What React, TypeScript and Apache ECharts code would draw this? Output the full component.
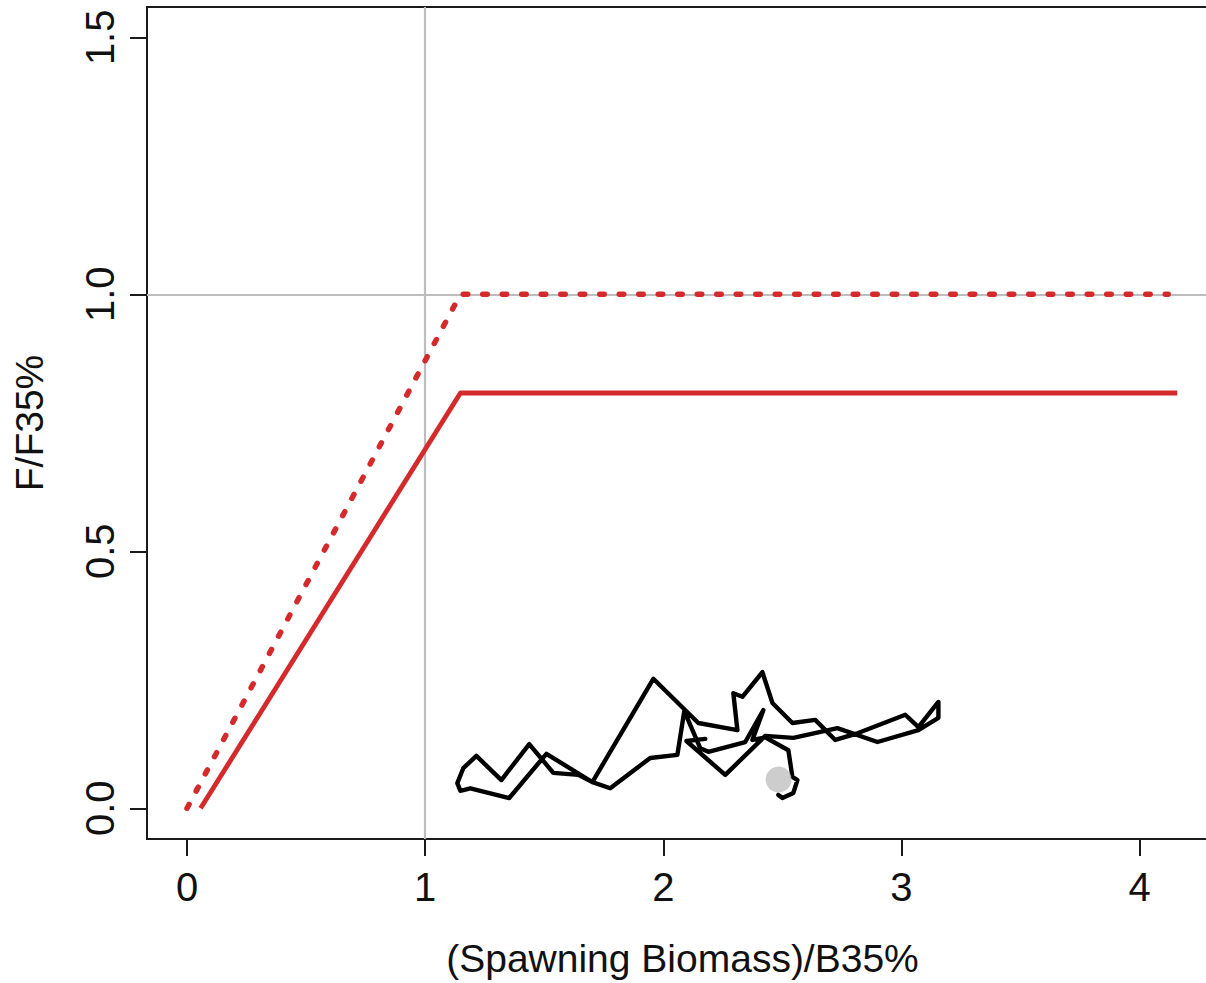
import React, { useEffect, useRef } from "react";
import * as echarts from "echarts";

// ---- data ----
const xTicks = [0, 1, 2, 3, 4];
const yTicks = [0, 0.5, 1, 1.5];

const ofDotB = [0, 1.148, 4.12];
const ofDotF = [0, 1.0, 1.0];

const abcB = [0.057, 1.148, 4.158];
const abcF = [0, 0.808, 0.808];

const refB = 1;
const refF = 1;

const trajB = [
  2.176, 2.097, 2.26, 2.428, 2.546, 2.731, 2.899, 3.071, 3.155, 3.155, 3.071, 3.016, 2.815,
  2.722, 2.638, 2.542, 2.458, 2.416, 2.332, 2.294, 2.311, 2.147, 1.958, 1.702, 1.643, 1.538,
  1.437, 1.32, 1.215, 1.16, 1.135, 1.148, 1.19, 1.353, 1.509, 1.702, 1.777, 1.945, 2.059,
  2.088, 2.155, 2.189, 2.344, 2.42, 2.374, 2.428, 2.525, 2.542, 2.563, 2.546, 2.5, 2.483,
];
const trajF = [
  0.135, 0.131, 0.065, 0.141, 0.137, 0.156, 0.129, 0.152, 0.176, 0.207, 0.158, 0.182, 0.146,
  0.133, 0.172, 0.166, 0.205, 0.265, 0.217, 0.224, 0.152, 0.166, 0.252, 0.051, 0.065, 0.069,
  0.125, 0.055, 0.102, 0.078, 0.049, 0.034, 0.039, 0.02, 0.106, 0.051, 0.039, 0.098, 0.104,
  0.189, 0.117, 0.11, 0.129, 0.191, 0.133, 0.138, 0.113, 0.061, 0.055, 0.03, 0.02, 0.026,
];

const currentB = [2.484];
const currentF = [0.056];

const xTitle = "(Spawning Biomass)/B35%";
const yTitle = "F/F35%";

const zip = (a: number[], b: number[]) => a.map((v, i) => [v, b[i]]);

const FONT = "'Liberation Sans', Arial, Helvetica, sans-serif";
const RED = "#d42a2c";

export default function App() {
  const ref = useRef<HTMLDivElement>(null);

  useEffect(() => {
    document.body.style.margin = "0";
    const chart = echarts.init(ref.current!, undefined, { renderer: "svg" });
    chart.setOption({
      animation: false,
      backgroundColor: "#ffffff",
      textStyle: { fontFamily: FONT },
      grid: {
        left: 147,
        top: 7,
        bottom: 144,
        right: 0,
        show: true,
        borderColor: "#1a1a1a",
        borderWidth: 2,
        backgroundColor: "transparent",
      },
      xAxis: {
        type: "value",
        min: -0.168,
        max: 4.329,
        name: xTitle,
        nameLocation: "middle",
        nameGap: 100,
        nameTextStyle: { fontSize: 39, color: "#111", fontFamily: FONT },
        axisLine: { show: true, onZero: false, lineStyle: { color: "#1a1a1a", width: 2 } },
        axisTick: {
          show: true,
          inside: false,
          length: 17,
          customValues: xTicks,
          lineStyle: { color: "#1a1a1a", width: 2 },
        },
        axisLabel: {
          show: true,
          customValues: xTicks,
          margin: 28,
          fontSize: 40,
          color: "#111",
          fontFamily: FONT,
          formatter: (v: number) => String(v),
        },
        splitLine: { show: false },
      },
      yAxis: {
        type: "value",
        min: -0.0597,
        max: 1.559,
        name: yTitle,
        nameLocation: "middle",
        nameRotate: 90,
        nameGap: 98,
        nameTextStyle: { fontSize: 39, color: "#111", fontFamily: FONT },
        axisLine: { show: true, onZero: false, lineStyle: { color: "#1a1a1a", width: 2 } },
        axisTick: {
          show: true,
          inside: false,
          length: 17,
          customValues: yTicks,
          lineStyle: { color: "#1a1a1a", width: 2 },
        },
        axisLabel: {
          show: true,
          customValues: yTicks,
          rotate: 90,
          margin: 27,
          fontSize: 40,
          color: "#111",
          fontFamily: FONT,
          formatter: (v: number) => v.toFixed(1),
        },
        splitLine: { show: false },
      },
      series: [
        {
          type: "line",
          data: [],
          silent: true,
          z: 1,
          markLine: {
            silent: true,
            z: 1,
            symbol: ["none", "none"],
            label: { show: false },
            lineStyle: { color: "#bdbdbd", width: 2.2, type: "solid" },
            data: [{ xAxis: refB }, { yAxis: refF }],
          },
        },
        {
          type: "line",
          data: zip(ofDotB, ofDotF),
          showSymbol: false,
          z: 6,
          lineStyle: { color: RED, width: 5.5, type: [4.5, 15], cap: "round", join: "round" },
        },
        {
          type: "line",
          data: zip(abcB, abcF),
          showSymbol: false,
          z: 6,
          lineStyle: { color: RED, width: 4.8, type: "solid", join: "round" },
        },
        {
          type: "line",
          data: zip(trajB, trajF),
          showSymbol: false,
          z: 7,
          lineStyle: { color: "#000000", width: 4.4, join: "round", cap: "round" },
        },
        {
          type: "scatter",
          data: zip(currentB, currentF),
          symbol: "circle",
          symbolSize: 26,
          z: 8,
          itemStyle: { color: "#c0c0c0" },
        },
      ],
    });
    return () => chart.dispose();
  }, []);

  return (
    <div
      style={{
        position: "absolute",
        left: 0,
        top: 0,
        width: 1206,
        height: 983,
        overflow: "hidden",
        background: "#fff",
      }}
    >
      <div ref={ref} style={{ width: 1218, height: 983 }} />
    </div>
  );
}
